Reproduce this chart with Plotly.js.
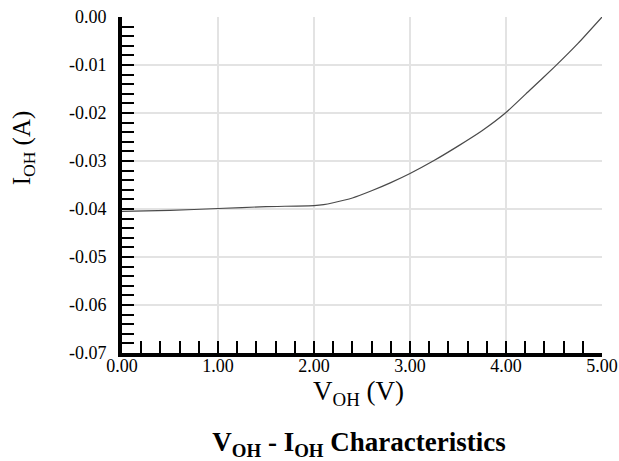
<!DOCTYPE html>
<html>
<head>
<meta charset="utf-8">
<script src="https://cdn.plot.ly/plotly-3.0.1.min.js"></script>
<style>
html,body{margin:0;padding:0;background:#fff;}
#chart{width:619px;height:461px;}
#chart text{font-family:'Liberation Serif','Times New Roman',Times,serif !important;}
</style>
</head>
<body>
<div id="chart"></div>
<script>
// Output high voltage (V) vs output high current (A)
var vOH = [0, 0.5, 1.0, 1.5, 2.0, 2.1, 2.2, 2.4, 2.6, 2.8, 3.0, 3.25, 3.5, 3.75, 4.0, 4.25, 4.5, 4.75, 5.0];
var iOH = [-0.0405, -0.0403, -0.0399, -0.0395, -0.0393, -0.0391, -0.0387, -0.0377, -0.0362, -0.0345, -0.0326, -0.0299, -0.0269, -0.0237, -0.0199, -0.0152, -0.0105, -0.0055, 0.0000];
var xTickVals = [0, 1, 2, 3, 4, 5];
var xTickText = ["0.00", "1.00", "2.00", "3.00", "4.00", "5.00"];
var yTickVals = [0, -0.01, -0.02, -0.03, -0.04, -0.05, -0.06, -0.07];
var yTickText = ["0.00", "-0.01", "-0.02", "-0.03", "-0.04", "-0.05", "-0.06", "-0.07"];

var serif = "'Liberation Serif', 'Times New Roman', Times, serif";

var trace = {
  x: vOH, y: iOH, type: "scatter", mode: "lines",
  line: {color: "#4a4a4a", width: 1.2, shape: "spline", smoothing: 0.4},
  hoverinfo: "skip"
};

var layout = {
  width: 619, height: 461,
  margin: {l: 122, r: 17, t: 17, b: 108},
  paper_bgcolor: "#ffffff", plot_bgcolor: "#ffffff",
  showlegend: false,
  font: {family: serif, color: "#000"},
  title: {
    text: "<b>V<sub>OH</sub> - I<sub>OH</sub> Characteristics</b>",
    font: {family: serif, size: 27, color: "#000"},
    x: 0.58, xanchor: "center",
    yref: "container", y: 0.042, yanchor: "middle"
  },
  xaxis: {
    range: [0, 5], tickmode: "array", tickvals: xTickVals, ticktext: xTickText,
    showline: true, linecolor: "#000", linewidth: 4,
    ticks: "inside", ticklen: 12, tickwidth: 2, tickcolor: "#000",
    minor: {dtick: 0.2, ticks: "inside", ticklen: 12, tickwidth: 2, tickcolor: "#000", showgrid: false},
    showgrid: true, gridcolor: "#e3e3e3", gridwidth: 1.5,
    zeroline: false,
    ticklabelstandoff: -7,
    tickfont: {family: serif, size: 18, color: "#000"},
    fixedrange: true
  },
  yaxis: {
    range: [-0.07, 0], tickmode: "array", tickvals: yTickVals, ticktext: yTickText,
    showline: true, linecolor: "#000", linewidth: 4,
    ticks: "inside", ticklen: 12, tickwidth: 2, tickcolor: "#000",
    minor: {dtick: 0.002, ticks: "inside", ticklen: 12, tickwidth: 2, tickcolor: "#000", showgrid: false},
    showgrid: true, gridcolor: "#e3e3e3", gridwidth: 1.5,
    zeroline: false,
    ticklabelstandoff: 8,
    tickfont: {family: serif, size: 18, color: "#000"},
    fixedrange: true
  },
  annotations: [{
    text: "I<sub>OH</sub> (A)", textangle: -90,
    xref: "paper", yref: "paper",
    x: -0.205, y: 0.611, xanchor: "center", yanchor: "middle",
    showarrow: false, font: {family: serif, size: 25, color: "#000"}
  }, {
    text: "V<sub>OH</sub> (V)",
    xref: "paper", yref: "paper",
    x: 0.492, y: -0.119, xanchor: "center", yanchor: "middle",
    showarrow: false, font: {family: serif, size: 27, color: "#000"}
  }]
};

Plotly.newPlot("chart", [trace], layout, {displayModeBar: false, staticPlot: true});
</script>
</body>
</html>
